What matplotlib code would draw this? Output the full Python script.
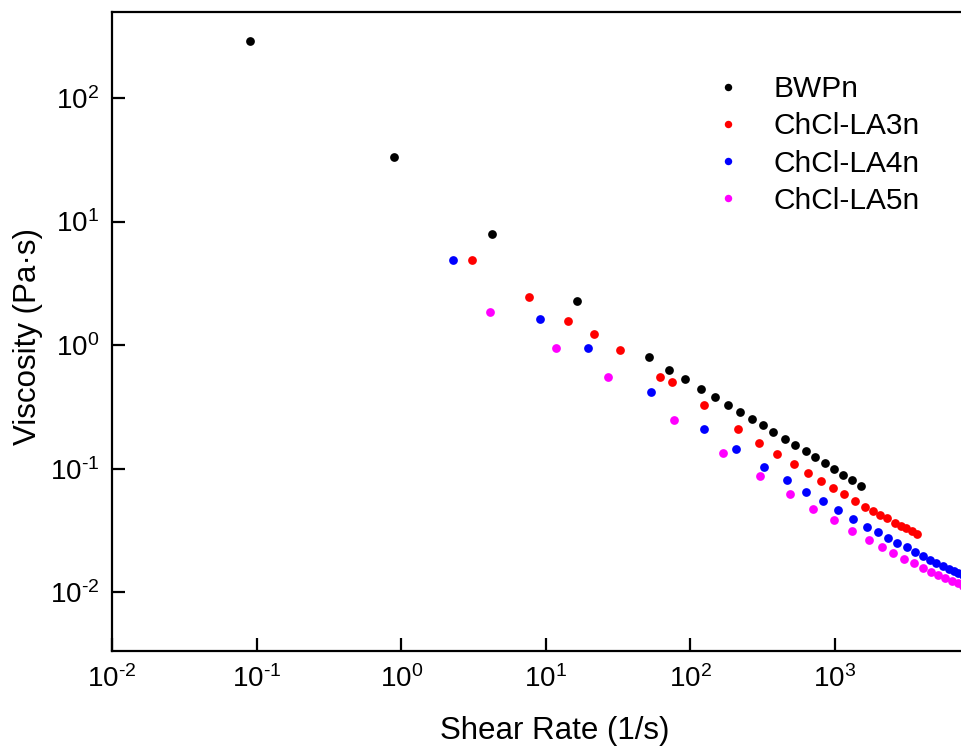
import matplotlib
matplotlib.use("Agg")
import math
import matplotlib.pyplot as plt
from matplotlib.ticker import LogLocator, NullLocator, FuncFormatter

plt.rcParams['font.family'] = ['Liberation Sans', 'DejaVu Sans']
plt.rcParams['mathtext.fontset'] = 'custom'
plt.rcParams['mathtext.rm'] = 'Liberation Sans'
plt.rcParams['mathtext.it'] = 'Liberation Sans'
plt.rcParams['mathtext.bf'] = 'Liberation Sans'
plt.rcParams['axes.unicode_minus'] = False

# ---- data ----
bwpn_x = [0.090, 0.896, 4.23, 16.4, 51.7, 70.8, 91.8, 118.4, 148, 182.9, 221.4,
          266.7, 316, 374.4, 448.9, 531.6, 627.2, 730.8, 848.8, 984, 1136, 1305, 1513]
bwpn_y = [290.8, 33.3, 7.94, 2.28, 0.803, 0.634, 0.533, 0.445, 0.379, 0.3265, 0.288,
          0.2529, 0.2249, 0.1974, 0.1752, 0.1558, 0.1386, 0.1239, 0.1108, 0.0991,
          0.0896, 0.0807, 0.0726]

la3_x = [3.07, 7.62, 14.3, 21.4, 32.7, 61.4, 74.6, 124.8, 214.5, 298, 399, 518,
         650.6, 796, 964, 1158, 1368, 1607, 1826, 2057, 2271, 2592, 2848, 3108,
         3386, 3703]
la3_y = [4.86, 2.45, 1.578, 1.225, 0.915, 0.548, 0.504, 0.330, 0.2099, 0.1627,
         0.1317, 0.1093, 0.0930, 0.0801, 0.0699, 0.0622, 0.0549, 0.0488, 0.0453,
         0.0424, 0.0400, 0.0366, 0.0346, 0.0329, 0.0313, 0.0298]

la4_x = [2.29, 9.08, 19.5, 53.4, 124.2, 206.8, 324.4, 463.4, 633, 830, 1054, 1328,
         1656, 1974, 2337, 2705, 3123, 3574, 4041, 4517, 5018, 5557, 6095, 6630,
         7123, 7677]
la4_y = [4.86, 1.638, 0.958, 0.418, 0.2111, 0.1454, 0.1040, 0.0812, 0.0653,
         0.0546, 0.0462, 0.0395, 0.0340, 0.0306, 0.0274, 0.0252, 0.0231, 0.0211,
         0.0196, 0.0184, 0.01736, 0.01636, 0.01555, 0.01490, 0.01427, 0.01383]

la5_x = [4.09, 11.7, 27.1, 76.6, 167.3, 302.9, 486, 707.9, 979, 1311, 1711, 2104,
         2531, 3001, 3517, 4041, 4590, 5180, 5792, 6444, 7055, 7677]
la5_y = [1.84, 0.958, 0.553, 0.248, 0.135, 0.0870, 0.0622, 0.0475, 0.0385, 0.0316,
         0.0264, 0.0233, 0.0208, 0.0188, 0.01723, 0.0159, 0.01476, 0.01388,
         0.01308, 0.01236, 0.01184, 0.01137]

labels = ['BWPn', 'ChCl-LA3n', 'ChCl-LA4n', 'ChCl-LA5n']
colors = ['#000000', '#ff0000', '#0000ff', '#ff00ff']

# ---- figure ----
W, H = 961, 747
fig = plt.figure(figsize=(W / 100, H / 100), dpi=100)
ax_l, ax_r, ax_t, ax_b = 112, 961, 12, 651.3
ax = fig.add_axes([ax_l / W, (H - ax_b) / H, (ax_r - ax_l) / W, (ax_b - ax_t) / H])

series = [(bwpn_x, bwpn_y), (la3_x, la3_y), (la4_x, la4_y), (la5_x, la5_y)]
for (xs, ys), lab, c in zip(series, labels, colors):
    ax.plot(xs, ys, linestyle='none', marker='o', markersize=6.3, color=c,
            markeredgewidth=0, label=lab)

ax.set_xscale('log')
ax.set_yscale('log')
dec_x = 144.6
dec_y = 123.6
ax.set_xlim(1e-2, 10 ** (-2 + (ax_r - ax_l) / dec_x))
ax.set_ylim(10 ** (2 - (ax_b - 98) / dec_y), 10 ** (2 + (98 - ax_t) / dec_y))

ax.xaxis.set_major_locator(LogLocator(base=10, numticks=20))
ax.yaxis.set_major_locator(LogLocator(base=10, numticks=20))
ax.xaxis.set_minor_locator(NullLocator())
ax.yaxis.set_minor_locator(NullLocator())


def fmt(v, pos):
    e = int(round(math.log10(v)))
    s = str(e).replace('-', '\u2010')
    return r'$\mathregular{10^{%s}}$' % s


ax.xaxis.set_major_formatter(FuncFormatter(fmt))
ax.yaxis.set_major_formatter(FuncFormatter(fmt))

ax.spines['right'].set_visible(False)
for s in ['left', 'bottom', 'top']:
    ax.spines[s].set_linewidth(1.6)
ax.tick_params(axis='both', which='major', direction='in', length=9.5, width=1.6,
               labelsize=20, top=False, right=False)
ax.tick_params(axis='x', pad=10)
ax.tick_params(axis='y', pad=9)

ax.set_xlabel('Shear Rate (1/s)', fontsize=22.5)
ax.set_ylabel('Viscosity (Pa·s)', fontsize=22.5)
ax.xaxis.set_label_coords((555 - ax_l) / (ax_r - ax_l), -(731 - ax_b) / (ax_b - ax_t))
ax.xaxis.label.set_va('center')
ax.yaxis.set_label_coords(-(112 - 28) / (ax_r - ax_l), (ax_b - 336.5) / (ax_b - ax_t))
ax.yaxis.label.set_va('center')

leg = ax.legend(loc='upper left', bbox_to_anchor=(706 / W, 1 - 75 / H),
                bbox_transform=fig.transFigure, frameon=False, fontsize=21.5,
                handlelength=1.5, handletextpad=0.75, labelspacing=0.31,
                borderpad=0, borderaxespad=0, markerscale=0.85)

fig.savefig('out.png', dpi=100)
